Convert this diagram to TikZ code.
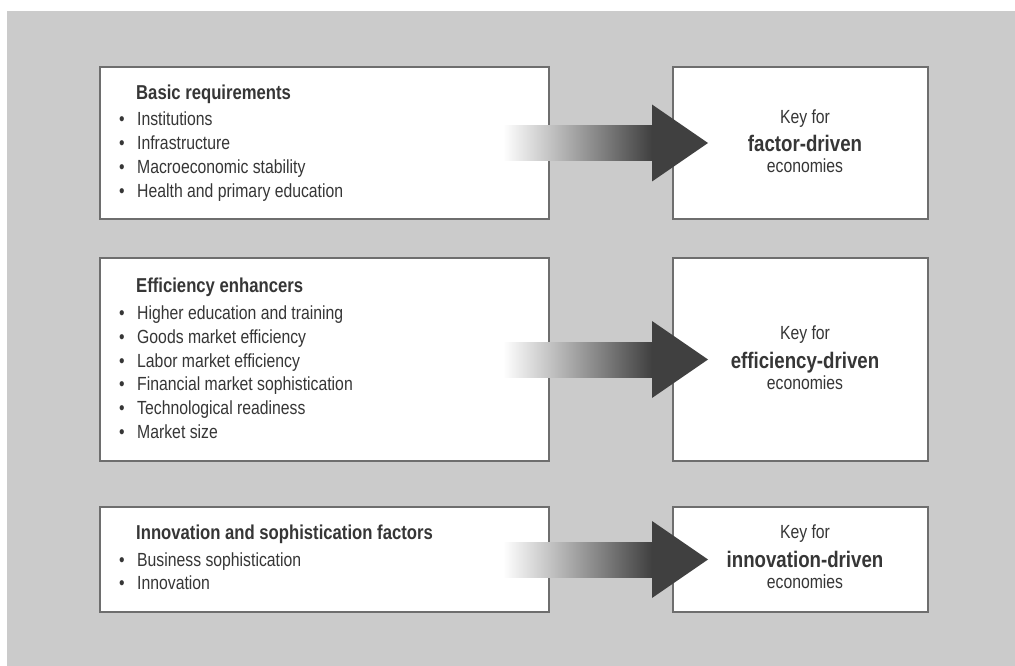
\documentclass[tikz,border=0pt]{standalone}
\usepackage{fontspec}
\setmainfont{Liberation Sans}[FakeStretch=0.83]
\usetikzlibrary{calc}
\definecolor{bg}{HTML}{CBCBCB}
\definecolor{frame}{HTML}{6E6E6E}
\definecolor{txt}{HTML}{363636}
\definecolor{arr}{HTML}{404040}
\begin{document}
\begin{tikzpicture}[x=1pt,y=-1pt,
  box/.style={draw=frame, line width=1.3pt, fill=white, inner sep=0pt, outer sep=0pt},
  ttl/.style={inner sep=0pt, anchor=base west, text=txt, font=\fontsize{20.1}{24}\selectfont\bfseries},
  itm/.style={inner sep=0pt, anchor=base west, text=txt, font=\fontsize{19}{23}\selectfont},
  bul/.style={inner sep=0pt, anchor=base, text=txt, font=\fontsize{19}{23}\selectfont},
  keysm/.style={inner sep=0pt, anchor=base, text=txt, font=\fontsize{19}{23}\selectfont},
  keybig/.style={inner sep=0pt, anchor=base, text=txt, font=\fontsize{22.5}{27}\selectfont\bfseries},
  shaft/.style={left color=white, right color=arr},
  head/.style={fill=arr},
]
\useasboundingbox (0,0) rectangle (1015,666);
\fill[bg] (7,11) rectangle (1015,666);

% boxes
\node[box, minimum width=449pt, minimum height=152pt] (b1) at (324.5,143) {};
\node[box, minimum width=255pt, minimum height=152pt] (k1) at (800.5,143) {};
\node[box, minimum width=449pt, minimum height=203pt] (b2) at (324.5,359.5) {};
\node[box, minimum width=255pt, minimum height=203pt] (k2) at (800.5,359.5) {};
\node[box, minimum width=449pt, minimum height=105pt] (b3) at (324.5,559.5) {};
\node[box, minimum width=255pt, minimum height=105pt] (k3) at (800.5,559.5) {};

% arrows
\foreach \a/\b in {b1/k1, b2/k2, b3/k3}{
  \shade[shaft] ($(\a.east)+(-46,-17.5)$) rectangle ($(\a.east)+(103,17.5)$);
  \fill[head] ($(\a.east)+(103,-38.5)$) -- ($(\b.west)+(35,0)$) -- ($(\a.east)+(103,38.5)$) -- cycle;
}

% box 1 text
\node[ttl] (t1) at (136,100) {Basic requirements};
\foreach \y/\t [count=\i] in {125.5/Institutions, 149.5/Infrastructure, 173.5/Macroeconomic stability, 197.5/Health and primary education}{
  \node[bul] (p1\i) at (122,\y) {•};
  \node[itm] (i1\i) at (137,\y) {\t};
}

% box 2 text
\node[ttl] (t2) at (136,292) {Efficiency enhancers};
\foreach \y/\t [count=\i] in {319.5/Higher education and training, 343.3/Goods market efficiency, 367.1/Labor market efficiency, 390.9/Financial market sophistication, 414.7/Technological readiness, 438.5/Market size}{
  \node[bul] (p2\i) at (122,\y) {•};
  \node[itm] (i2\i) at (137,\y) {\t};
}

% box 3 text
\node[ttl] (t3) at (136,539) {Innovation and sophistication factors};
\foreach \y/\t [count=\i] in {566.5/Business sophistication, 589.5/Innovation}{
  \node[bul] (p3\i) at (122,\y) {•};
  \node[itm] (i3\i) at (137,\y) {\t};
}

% key boxes text
\node[keysm]  (ka1) at ($(k1.center)+(4.5,-19.5)$) {Key for};
\node[keybig] (kb1) at ($(k1.center)+(4.5,8.5)$) {factor-driven};
\node[keysm]  (kc1) at ($(k1.center)+(4.5,30)$) {economies};

\node[keysm]  (ka2) at ($(k2.center)+(4.5,-20)$) {Key for};
\node[keybig] (kb2) at ($(k2.center)+(4.5,8.5)$) {efficiency-driven};
\node[keysm]  (kc2) at ($(k2.center)+(4.5,30)$) {economies};

\node[keysm]  (ka3) at ($(k3.center)+(4.5,-21)$) {Key for};
\node[keybig] (kb3) at ($(k3.center)+(4.5,7.5)$) {innovation-driven};
\node[keysm]  (kc3) at ($(k3.center)+(4.5,29)$) {economies};
\end{tikzpicture}
\end{document}
